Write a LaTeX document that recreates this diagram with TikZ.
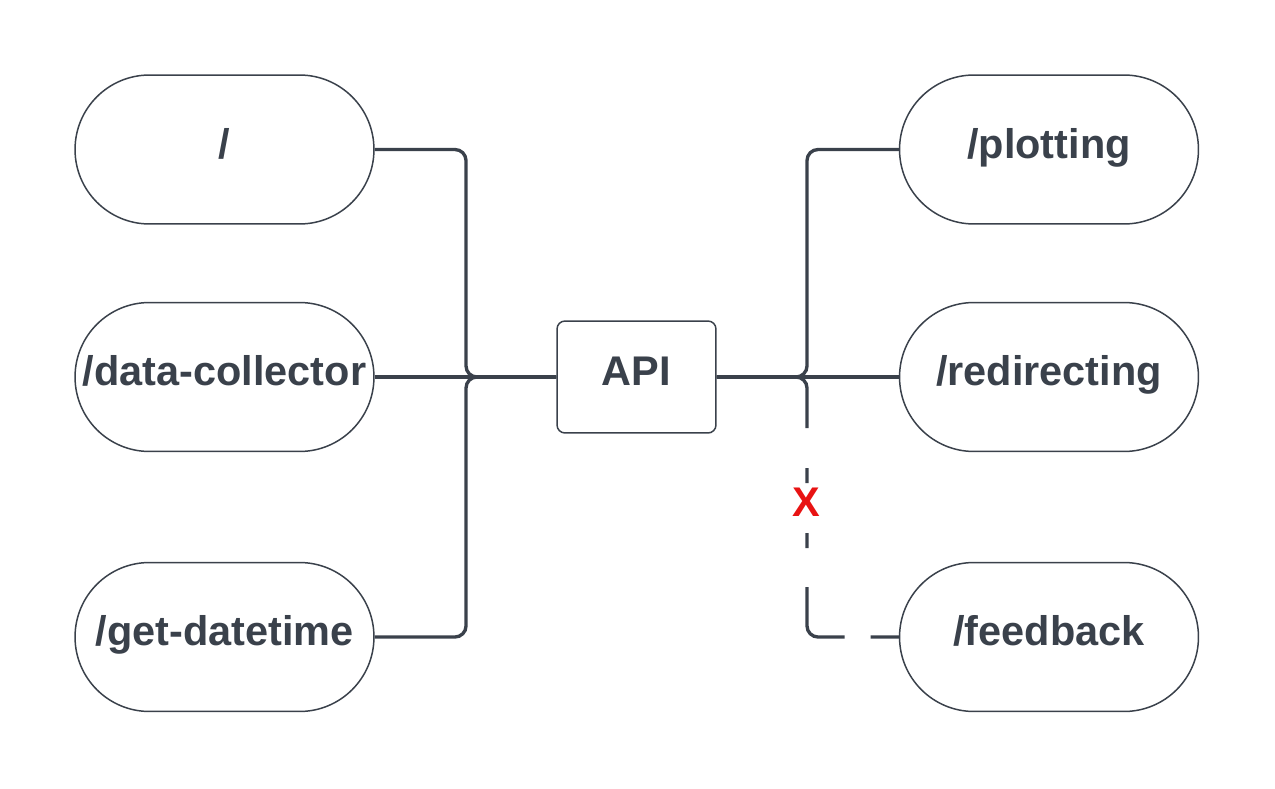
\documentclass[tikz,border=0pt]{standalone}
\usepackage{fontspec}
\setmainfont{Liberation Sans}
\definecolor{ink}{RGB}{58,65,75}
\definecolor{xred}{RGB}{232,19,19}
\begin{document}
\begin{tikzpicture}[x=0.02cm,y=-0.02cm,
  route/.style={draw=ink,fill=white,line width=0.85pt,rounded corners=1.49cm,
    minimum width=5.98cm,minimum height=2.98cm,inner sep=0pt,
    text height=0.6cm,text depth=0.26cm,
    font=\fontsize{23.6}{26}\selectfont\bfseries,text=ink},
  apibox/.style={draw=ink,fill=white,line width=0.85pt,rounded corners=0.16cm,
    minimum width=3.18cm,minimum height=2.24cm,inner sep=0pt,
    text height=0.6cm,text depth=0.26cm,
    font=\fontsize{23.6}{26}\selectfont\bfseries,text=ink},
  link/.style={draw=ink,line width=1.9pt,rounded corners=0.22cm},
  cut/.style={text=xred,font=\fontsize{23.6}{26}\selectfont\bfseries,inner sep=0pt}]
\useasboundingbox (0,0) rectangle (1275,788);
\node[route] (root) at (224.5,149.5) {/};
\node[route] (dc) at (224.5,377) {/data-collector};
\node[route] (gd) at (224.5,637) {/get-datetime};
\node[route] (pl) at (1049,149.5) {/plotting};
\node[route] (rd) at (1049,377) {/redirecting};
\node[route] (fb) at (1049,637) {/feedback};
\node[apibox] (api) at (636.5,377) {API};
\coordinate (jl) at (466,377);
\coordinate (jr) at (807,377);
\draw[link] (root.east) -| (jl) -- (api.west);
\draw[link] (gd.east) -| (jl) -- (api.west);
\draw[link] (dc.east) -- (api.west);
\draw[link] (api.east) -- (jr) |- (pl.west);
\draw[link] (api.east) -- (rd.west);
\draw[link,dash pattern=on 2.734cm off 0.8cm on 0.3cm off 1cm on 0.3cm off 0.78cm on 1.654cm off 0.52cm on 2cm] (api.east) -- (jr) |- (fb.west);
\node[cut] (x) at (806.5,502) {X};
\end{tikzpicture}
\end{document}
